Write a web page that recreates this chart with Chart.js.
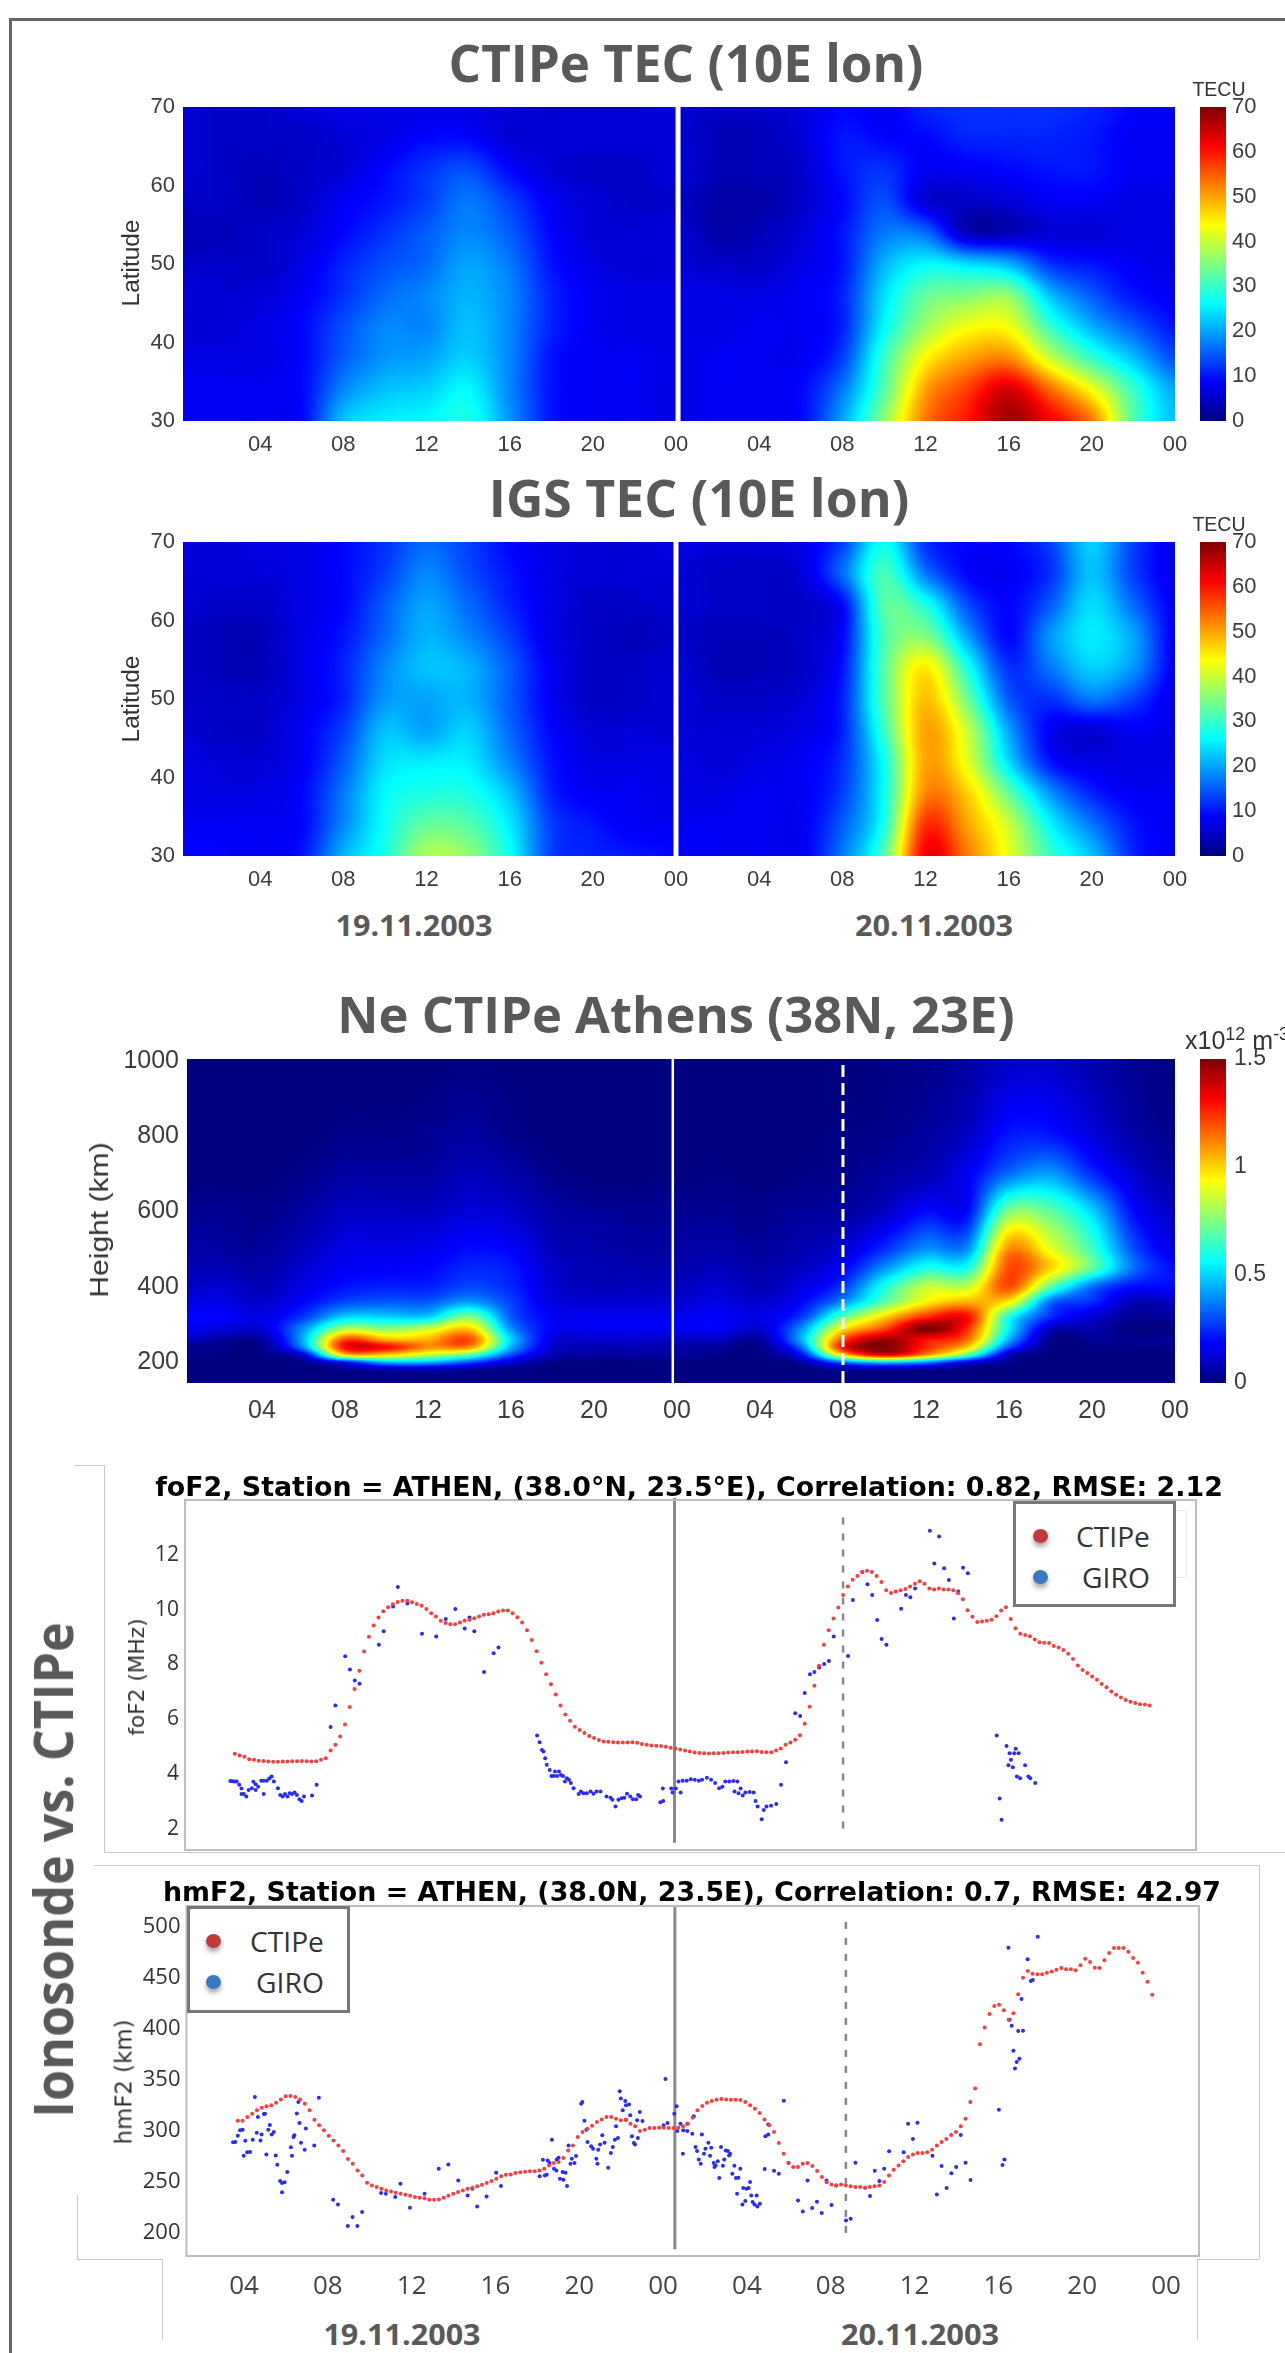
<!DOCTYPE html>
<html>
<head>
<meta charset="utf-8">
<title>CTIPe vs ionosonde</title>
<script src="https://cdn.jsdelivr.net/npm/chart.js@4/dist/chart.umd.min.js"></script>
<style>
html, body { margin: 0; padding: 0; background: #fff; }
#page { position: relative; width: 1285px; height: 2353px; overflow: hidden; background: #fff; filter: blur(0.5px); }
canvas { position: absolute; left: 0; }
.txt { position: absolute; white-space: nowrap; line-height: 1; }
.line { position: absolute; background: #c8c8c8; }
.legend { position: absolute; background: #fff; border: 3px solid #777; box-sizing: border-box; }
.dot { position: absolute; width: 15px; height: 14px; border-radius: 50%; box-shadow: 0 4px 5px #aaa; }
</style>
</head>
<body>
<div id="page"></div>
<script>
// time axis labels
const dayHourTicks = [4, 8, 12, 16, 20, 24, 28, 32, 36, 40, 44, 48];
const lineHourTicks = [0, 24, 48];

// heatmap grids, one row per latitude/height, one column per gridHours entry
const gridHours = [0, 2, 4, 6, 8, 10, 12, 14, 16, 18, 20, 22, 24, 26, 28, 30, 32, 34, 36, 38, 40, 42, 44, 46, 48];
const tecLats = [30, 34, 38, 42, 46, 50, 54, 58, 62, 66, 70];
const latTicks = [30, 40, 50, 60, 70];
const tecBarTicks = [0, 10, 20, 30, 40, 50, 60, 70];

const ctipeTec = [
  [8,8,8,9,22,25,26,28,19,10,8,8,7, 8,8,9,20,36,53,60,68,62,53,32,22],
  [8,8,8,9,18,22,23,26,18,10,8,8,7, 8,8,9,17,32,50,57,64,54,43,30,20],
  [7,7,7,9,15,19,20,23,18,10,8,8,7, 8,8,8,13,30,44,50,52,40,30,22,14],
  [6,6,7,9,14,18,18,22,18,11,8,7,7, 7,8,8,11,26,37,43,43,30,21,15,10],
  [6,6,6,8,12,16,18,21,18,11,8,7,7, 7,7,8,11,24,33,35,36,22,15,10,8],
  [5,5,5,7,11,14,16,20,17,10,7,6,6, 5,5,7,10,21,26,24,21,12,10,8,7],
  [4,4,5,6,9,12,15,18,15,9,6,6,6, 3,4,6,10,17,16,4,4,6,6,7,7],
  [5,5,4,5,8,10,13,17,13,8,6,5,5, 3,3,5,9,14,6,5,6,8,8,7,7],
  [6,5,4,5,6,9,12,14,9,6,5,5,6, 4,4,5,10,12,8,8,9,10,10,8,8],
  [6,5,5,5,6,7,9,9,6,6,6,6,6, 4,4,6,10,9,9,11,11,11,10,8,8],
  [6,5,5,6,7,7,7,7,6,6,6,6,6, 5,5,6,9,8,11,12,12,12,11,9,8]
];

const igsTec = [
  [9,9,8,10,21,28,38,36,27,13,11,10,9, 8,8,8,17,32,62,53,42,30,22,11,8],
  [8,8,8,9,18,27,33,32,25,13,10,8,8, 8,8,8,15,28,58,50,40,26,17,10,8],
  [7,7,7,9,17,26,28,28,22,11,8,8,7, 7,8,8,13,27,52,47,33,19,11,8,8],
  [7,6,6,8,15,24,25,25,18,10,7,7,7, 6,7,8,12,27,50,42,24,10,7,7,7],
  [6,5,5,8,13,22,20,23,16,9,6,6,6, 6,6,7,11,30,50,40,20,8,6,8,7],
  [5,5,5,7,11,19,20,21,15,8,5,5,6, 5,5,6,11,32,48,34,15,12,17,13,7],
  [5,4,4,7,11,18,22,21,15,8,5,5,6, 4,4,5,10,32,45,28,12,17,23,19,8],
  [5,4,4,7,10,16,21,18,13,7,5,4,5, 4,4,5,9,31,35,20,9,19,25,20,8],
  [6,5,5,7,9,15,20,16,11,7,5,5,6, 5,5,5,9,32,28,14,9,15,24,16,8],
  [6,6,6,7,9,13,18,14,10,7,6,6,6, 5,5,6,16,31,17,9,8,12,22,13,7],
  [7,6,7,7,9,12,16,13,9,7,6,6,7, 6,6,7,13,27,12,9,9,13,23,13,7]
];

const neHeights = [145, 180, 200, 220, 240, 260, 290, 320, 360, 400, 450, 500, 600, 700, 800, 900, 1005];
const heightTicks = [200, 400, 600, 800, 1000];
const neBarTicks = [0, 0.5, 1, 1.5];

const neCtipe = [
  [0,0,0,0,0,0,0,0,0,0,0,0,0, 0,0,0,0,0,0,0,0,0,0,0,0],
  [0,0,0,0,.02,.06,.06,.04,.01,0,0,0,0, 0,0,0,.03,.03,.02,0,0,0,0,0,0],
  [0,0,0,.02,.2,.45,.45,.3,.12,.02,0,0,0, 0,0,.05,.35,.5,.4,.15,.03,0,0,0,0],
  [.02,.01,.01,.15,1.0,1.0,.85,.7,.3,.08,.05,.05,.05, .02,.01,.2,1.0,1.35,1.1,.7,.1,0,0,0,0],
  [.02,.02,.02,.4,1.3,1.3,1.1,1.1,.45,.12,.08,.08,.05, .04,.02,.35,1.3,1.5,1.25,1.0,.3,.01,.01,.02,.02],
  [.12,.05,.05,.45,1.2,1.05,1.05,1.2,.5,.14,.12,.12,.1, .1,.05,.45,1.2,1.45,1.3,1.15,.45,.03,.03,.03,.03],
  [.18,.14,.13,.4,.8,.75,.85,1.0,.4,.18,.17,.17,.17, .18,.12,.4,.95,1.2,1.5,1.25,.55,.1,.07,0,0],
  [.19,.19,.15,.27,.5,.5,.5,.75,.32,.18,.17,.17,.17, .18,.15,.27,.7,1.0,1.25,1.3,.6,.25,.12,.03,.05],
  [.14,.15,.11,.19,.29,.32,.32,.42,.28,.14,.12,.12,.12, .15,.11,.19,.4,.7,.95,1.05,.95,.35,.25,.08,.1],
  [.1,.12,.08,.15,.21,.23,.23,.29,.24,.12,.09,.09,.09, .12,.08,.14,.27,.6,.85,.85,1.2,.7,.35,.2,.2],
  [.08,.08,.06,.12,.17,.18,.19,.24,.22,.11,.08,.07,.07, .09,.06,.1,.18,.4,.6,.6,1.2,1.0,.7,.35,.2],
  [.06,.05,.04,.09,.15,.15,.16,.2,.18,.09,.07,.05,.05, .06,.04,.07,.12,.25,.4,.4,1.1,.9,.65,.3,.15],
  [.03,.03,.02,.05,.1,.1,.1,.13,.11,.06,.04,.03,.03, .03,.02,.04,.05,.1,.2,.2,.75,.7,.5,.2,.1],
  [0,0,0,.02,.05,.05,.05,.09,.06,.02,0,0,0, .01,0,.01,.02,.05,.08,.17,.35,.42,.25,.12,.05],
  [0,0,0,0,.02,.02,.03,.05,.02,0,0,0,0, 0,0,0,.01,.02,.05,.1,.22,.22,.14,.06,.02],
  [0,0,0,0,0,0,.01,.03,.01,0,0,0,0, 0,0,0,0,.01,.03,.07,.16,.16,.1,.04,.01],
  [0,0,0,0,0,0,0,0,0,0,0,0,0, 0,0,0,0,.01,.02,.05,.1,.1,.07,.03,.01]
];

// foF2 (MHz), CTIPe every 15 min from 00:15 on 19.11
const fof2Ctipe = [
  4.74,4.68,4.63,4.54,4.52,4.49,4.48,4.46,4.45,4.45,
  4.46,4.46,4.47,4.47,4.48,4.47,4.46,4.47,4.52,4.58,
  4.86,5.07,5.37,5.81,6.45,7.10,7.77,8.47,9.01,9.42,
  9.71,9.94,10.09,10.20,10.28,10.32,10.32,10.27,10.21,10.14,
  10.02,9.87,9.75,9.59,9.51,9.47,9.47,9.53,9.60,9.63,
  9.69,9.75,9.81,9.83,9.87,9.93,9.97,9.97,9.87,9.72,
  9.53,9.25,8.89,8.48,8.06,7.64,7.28,6.90,6.50,6.17,
  5.95,5.73,5.61,5.50,5.39,5.32,5.24,5.19,5.18,5.16,
  5.15,5.15,5.15,5.16,5.14,5.10,5.07,5.04,5.03,5.02,
  5.00,4.96,4.93,4.90,4.86,4.82,4.79,4.77,
  4.76,4.75,4.76,4.76,4.77,4.79,4.80,4.80,4.81,4.82,
  4.82,4.83,4.81,4.80,4.80,4.86,4.93,5.07,5.15,5.25,
  5.42,5.84,6.46,7.22,7.95,8.72,9.25,9.68,10.08,10.53,
  10.84,11.09,11.23,11.37,11.42,11.37,11.23,11.01,10.71,10.61,
  10.66,10.71,10.75,10.84,10.94,11.04,10.94,10.77,10.73,10.77,
  10.73,10.73,10.71,10.60,10.38,9.98,9.74,9.55,9.57,9.59,
  9.63,9.76,9.97,10.09,9.66,9.32,9.12,9.07,9.03,8.91,
  8.81,8.79,8.78,8.67,8.62,8.53,8.39,8.20,7.96,7.80,
  7.69,7.56,7.44,7.29,7.17,7.01,6.89,6.79,6.70,6.64,
  6.59,6.55,6.54,6.50
];

const fof2GiroHours = [
  .02,.12,.23,.35,.48,.60,.60,.72,.85,.97,1.14,1.22,1.34,1.34,1.47,1.63,1.76,1.76,1.92,2.05,
  2.17,2.29,2.50,2.62,2.75,2.87,3.00,3.12,3.24,3.37,3.49,3.62,3.74,3.86,4.28,4.52,5.25,5.50,6.01,6.26,
  6.51,6.76,7.77,8.02,8.51,8.76,9.26,10.02,10.76,11.26,11.76,12.25,12.50,12.75,13.26,13.76,14.01,16.03,16.16,16.28,
  16.36,16.45,16.53,16.69,16.78,16.90,16.96,17.07,17.17,17.27,17.38,17.48,17.58,17.69,17.79,17.93,18.20,18.31,18.45,18.62,
  18.82,18.97,19.13,19.34,19.65,19.86,19.96,20.12,20.27,20.43,20.58,20.72,20.89,21.03,21.20,21.30,21.40,22.46,22.61,22.59,
  23.03,23.27,23.10,23.52,23.41,23.63,23.84,24.05,24.26,24.47,24.64,24.89,25.11,25.32,25.53,25.70,25.85,26.06,26.27,26.48,
  26.33,26.65,26.54,26.76,26.90,27.12,27.33,27.43,27.54,27.75,27.86,28.00,28.24,28.51,28.76,29.02,29.50,29.76,30.00,30.27,
  30.50,30.75,31.01,31.26,31.51,32.26,32.51,33.01,33.27,33.52,33.78,34.01,34.26,35.03,35.28,35.51,35.76,36.53,37.01,36.76,
  37.27,37.52,37.78,38.01,38.26,38.51,40.02,40.17,40.27,40.53,40.63,40.69,40.76,40.86,40.93,41.01,41.07,41.16,41.24,41.50,
  41.67,41.77,42.03
];
const fof2Giro = [
  3.75,3.74,3.73,3.73,3.61,3.47,3.27,3.27,3.18,3.42,3.48,3.72,3.63,3.42,3.54,3.76,3.76,3.27,3.76,3.84,
  3.91,3.73,3.48,3.24,3.18,3.27,3.18,3.30,3.27,3.33,3.24,3.08,3.02,3.18,3.22,3.61,5.72,6.50,8.30,7.82,
  7.41,7.30,8.72,9.21,10.11,10.83,10.22,9.12,9.02,9.66,10.02,9.31,9.71,9.21,7.72,8.41,8.62,5.41,5.16,4.88,
  4.82,4.58,4.34,4.15,3.93,3.93,4.09,3.93,4.09,3.97,3.93,3.73,3.85,3.79,3.67,3.48,3.27,3.36,3.30,3.30,
  3.36,3.28,3.36,3.36,3.18,3.14,3.06,2.82,3.06,3.12,3.14,3.28,3.18,3.08,3.08,3.24,3.18,2.97,3.02,3.47,
  3.47,3.47,3.33,3.33,3.73,3.76,3.76,3.81,3.79,3.76,3.79,3.87,3.79,3.67,3.48,3.54,3.73,3.73,3.75,3.73,
  3.36,3.47,3.30,3.22,3.33,3.35,3.33,3.02,2.82,2.35,2.69,2.82,2.84,2.91,3.61,4.43,6.22,6.12,6.96,7.64,
  7.72,7.89,8.02,8.13,9.02,8.31,10.35,11.37,10.93,10.53,9.62,8.93,8.72,10.03,10.53,10.45,10.77,12.88,12.67,11.68,
  11.51,11.08,9.68,10.66,11.53,11.33,5.41,3.11,2.33,5.02,4.32,4.76,4.52,4.25,4.76,4.92,3.91,4.76,3.85,4.32,
  3.91,3.85,3.67
];

// hmF2 (km)
const hmf2Ctipe = [
  310.1,310.1,313.7,317.0,320.3,322.9,324.2,325.2,327.8,331.0,
  334.0,334.3,333.3,331.0,326.8,320.3,311.1,305.6,300.7,295.4,
  290.8,285.9,280.4,272.5,268.0,261.4,256.5,249.3,246.7,245.1,
  243.5,241.8,240.8,239.5,238.6,237.6,236.6,235.3,234.6,234.0,
  232.7,232.7,233.0,234.6,236.6,238.6,240.2,241.8,243.5,244.4,
  245.8,247.4,249.0,251.0,253.3,255.6,257.2,257.5,258.8,259.5,
  260.1,260.5,260.5,261.4,263.1,266.3,268.6,269.6,273.5,
  281.0,285.9,294.1,299.0,302.3,305.2,308.8,311.4,313.7,313.7,
  312.1,310.5,311.1,307.2,304.6,300.0,301.3,302.9,302.9,303.3,
  303.3,302.9,302.9,303.3,
  304.6,307.2,313.1,320.3,324.5,327.8,329.4,330.7,331.4,331.0,
  330.7,330.7,330.4,328.4,325.2,321.9,317.6,311.4,305.6,299.0,
  288.2,277.8,269.0,264.7,264.7,268.0,268.6,265.7,260.8,254.9,
  249.7,247.7,246.7,247.7,246.7,245.8,245.1,245.1,244.4,245.1,
  245.8,246.7,250.0,256.5,262.1,266.3,270.3,274.5,277.1,278.4,
  278.4,279.1,281.7,285.9,289.2,292.2,296.1,299.0,304.6,312.1,
  328.4,341.8,385.0,401.6,414.7,422.5,423.9,418.3,409.2,415.4,
  434.0,450.3,456.9,454.2,453.6,453.6,455.2,456.5,458.2,459.8,
  458.5,458.5,457.5,462.4,468.9,465.7,460.1,459.8,467.3,474.5,
  479.4,479.4,479.4,475.8,469.6,465.0,455.2,446.4,433.7
];

const hmf2GiroPairs = [
  [.00,288.9],[.12,289.2],[.25,295.4],[.37,300.7],[.50,301.3],[.64,290.5],[.56,275.8],[.74,279.1],[.89,279.4],[1.03,291.5],
  [1.14,333.3],[1.30,313.7],[1.24,298.4],[1.43,290.8],[1.49,296.7],[1.61,316.7],[1.67,317.0],[1.74,277.1],[1.84,301.3],[1.92,305.9],
  [2.02,296.7],[2.13,299.0],[2.23,276.1],[2.31,267.0],[2.46,251.0],[2.56,249.0],[2.69,249.7],[2.56,239.9],[2.83,259.8],[3.02,284.0],
  [3.08,275.8],[3.20,295.8],[3.16,294.1],[3.33,317.3],[3.41,328.4],[3.47,307.8],[3.55,288.6],[3.74,281.7],[3.80,302.6],[4.24,285.9],
  [4.48,332.7],[5.23,232.7],[5.48,228.1],[5.99,206.9],[6.24,215.7],[6.49,206.9],[6.74,220.6],[7.73,239.2],[7.98,238.6],[8.47,235.3],
  [8.74,248.4],[9.24,224.8],[10.00,238.6],[10.74,263.1],[11.24,267.3],[11.76,251.6],[12.25,236.9],[12.50,243.5],[12.75,226.1],[13.24,235.9],
  [13.74,259.2],[13.99,246.1],[16.01,255.6],[16.18,271.9],[16.28,256.5],[16.38,257.2],[16.43,271.2],[16.53,268.6],[16.65,291.5],[16.76,263.1],
  [16.90,272.2],[16.88,261.4],[17.00,273.9],[17.07,253.3],[17.21,259.8],[17.25,252.3],[17.36,259.2],[17.44,246.1],[17.52,285.9],[17.62,268.0],
  [17.69,272.9],[17.83,268.6],[17.91,275.5],[18.18,326.8],[18.24,328.4],[18.35,310.1],[18.45,301.3],[18.51,289.2],[18.70,285.0],[18.80,282.7],
  [18.97,272.9],[19.03,268.0],[19.07,281.7],[19.17,286.9],[19.28,295.8],[19.40,288.6],[19.59,264.1],[19.73,278.4],[19.83,284.3],[19.94,291.5],
  [20.00,304.6],[20.10,293.1],[20.19,338.9],[20.25,332.0],[20.35,320.3],[20.48,329.4],[20.52,325.2],[20.68,326.1],[20.52,311.1],[20.74,315.4],
  [20.83,294.8],[20.93,288.2],[20.99,286.9],[21.14,293.1],[21.10,310.5],[21.24,318.6],[21.38,309.8],[22.48,305.6],[22.58,351.0],[22.69,307.8],
  [23.04,317.0],[23.16,324.2],[23.20,300.0],[23.36,307.2],[23.49,277.8],[23.51,300.7],[23.72,307.2],[23.72,300.0],[23.98,297.4],[24.06,314.4],
  [24.15,284.3],[24.23,280.4],[24.32,272.2],[24.42,268.0],[24.48,296.7],[24.59,277.8],[24.67,282.7],[24.82,288.6],[24.91,275.8],[24.97,283.7],
  [25.10,268.6],[25.14,264.7],[25.20,266.3],[25.31,270.3],[25.39,253.9],[25.48,284.3],[25.58,266.0],[25.65,272.2],[25.73,281.0],[25.84,280.4],
  [25.96,277.8],[25.90,276.1],[26.07,258.2],[26.18,266.0],[26.26,253.9],[26.39,254.2],[26.49,263.1],[26.32,238.6],[26.60,228.1],[26.75,231.4],
  [26.64,244.1],[26.81,243.5],[26.92,244.1],[27.00,250.0],[27.06,236.9],[27.13,230.4],[27.23,228.1],[27.34,236.9],[27.38,226.1],[27.51,228.8],
  [27.76,262.7],[27.80,294.8],[27.95,296.7],[27.95,306.5],[28.25,261.1],[28.50,258.2],[28.76,329.7],[29.01,268.6],[29.50,232.0],[29.75,221.2],
  [30.00,251.6],[30.24,224.5],[30.49,230.7],[30.74,219.6],[30.99,251.6],[31.25,227.5],[31.50,246.7],[32.01,212.4],[32.25,214.1],[32.50,269.0],
  [33.01,244.4],[33.26,236.3],[33.51,261.1],[33.75,251.0],[34.00,263.1],[34.26,280.1],[35.02,279.1],[35.25,307.2],[35.50,292.2],[35.74,308.2],
  [36.52,275.8],[36.75,237.9],[37.00,265.7],[37.26,244.1],[37.51,258.5],[37.76,264.7],[38.00,296.1],[38.25,269.0],[38.51,252.0],[39.99,320.9],
  [40.18,266.7],[40.28,272.2],[40.49,479.7],[40.55,409.2],[40.66,403.3],[40.75,378.8],[40.83,361.4],[40.92,367.6],[41.06,370.9],[41.00,398.0],
  [41.17,429.4],[41.25,398.4],[41.49,468.3],[41.66,447.1],[41.76,448.0],[42.02,490.5]
];
const fof2Ticks = [2, 4, 6, 8, 10, 12];
const hmf2Ticks = [200, 250, 300, 350, 400, 450, 500];

const page = document.getElementById('page');

function jet(t) {
  const f = v => Math.round(255 * Math.max(0, Math.min(1, v)));
  return [f(1.5 - Math.abs(4 * t - 3)), f(1.5 - Math.abs(4 * t - 2)), f(1.5 - Math.abs(4 * t - 1))];
}

function hourLabel(v) {
  return String(v % 24).padStart(2, '0');
}

// fractional index of v in a sorted list
function fracIndex(list, v) {
  let i = 0;
  while (i < list.length - 2 && v > list[i + 1]) i++;
  return i + (v - list[i]) / (list[i + 1] - list[i]);
}

function catmull(a, b, c, d, t) {
  return b + 0.5 * t * (c - a + t * (2 * a - 5 * b + 4 * c - d + t * (3 * (b - c) + d - a)));
}

// fixed box for an axis, and no extra inset from its label overhang or tick padding
function fixBox(s, side, size) {
  s[side] = size;
  s.paddingTop = 0; s.paddingBottom = 0; s.paddingLeft = 0; s.paddingRight = 0;
}

const heatPlugin = {
  id: 'heat',
  beforeDatasetsDraw(chart, args, o) {
    const area = chart.chartArea, sx = chart.scales.x, sy = chart.scales.y;
    const w = Math.round(area.right - area.left), h = Math.round(area.bottom - area.top);
    const off = document.createElement('canvas');
    off.width = w; off.height = h;
    const octx = off.getContext('2d');
    const img = octx.createImageData(w, h);
    const nr = o.rows.length, nc = gridHours.length;
    const at = (r, c) => o.grid[Math.max(0, Math.min(nr - 1, r))][Math.max(0, Math.min(nc - 1, c))];
    const cols = [];
    for (let px = 0; px < w; px++) cols.push(fracIndex(gridHours, sx.getValueForPixel(area.left + px + 0.5)));
    for (let py = 0; py < h; py++) {
      const fr = fracIndex(o.rows, sy.getValueForPixel(area.top + py + 0.5));
      const r = Math.floor(fr), tr = fr - r;
      for (let px = 0; px < w; px++) {
        const c = Math.floor(cols[px]), tc = cols[px] - c;
        const rowVal = k => catmull(at(r + k, c - 1), at(r + k, c), at(r + k, c + 1), at(r + k, c + 2), tc);
        const v = catmull(rowVal(-1), rowVal(0), rowVal(1), rowVal(2), tr);
        const rgb = jet(Math.max(0, Math.min(1, v / o.max)));
        const p = (py * w + px) * 4;
        img.data[p] = rgb[0]; img.data[p + 1] = rgb[1]; img.data[p + 2] = rgb[2]; img.data[p + 3] = 255;
      }
    }
    octx.putImageData(img, 0, 0);
    chart.ctx.drawImage(off, area.left, area.top);
    // colour bar, same colormap on its own axis
    const sc = chart.scales.c;
    for (let y = Math.round(sc.top); y < sc.bottom; y++) {
      const rgb = jet(Math.max(0, Math.min(1, sc.getValueForPixel(y + 0.5) / o.max)));
      chart.ctx.fillStyle = 'rgb(' + rgb.join(',') + ')';
      chart.ctx.fillRect(o.barLeft, y, o.barWidth, 1);
    }
  }
};

const framePlugin = {
  id: 'frame',
  afterDraw(chart) {
    const a = chart.chartArea, ctx = chart.ctx;
    ctx.save();
    ctx.strokeStyle = '#bdbdbd';
    ctx.lineWidth = 2;
    ctx.strokeRect(a.left, a.top, a.right - a.left, a.bottom - a.top);
    ctx.restore();
  }
};

function addCanvas(top, height) {
  const c = document.createElement('canvas');
  c.width = 1285; c.height = height;
  c.style.top = top + 'px';
  page.appendChild(c);
  return c.getContext('2d');
}

function vline(x, y0, y1, color, width, dash) {
  return {
    type: 'scatter', showLine: true, pointRadius: 0, clip: false,
    borderColor: color, borderWidth: width, borderDash: dash || [],
    data: [{ x: x, y: y0 }, { x: x, y: y1 }]
  };
}

function heatChart(c) {
  const ctx = addCanvas(c.top, c.height);
  const cells = [];
  c.rows.forEach((r, i) => gridHours.forEach((h, j) => cells.push({ x: h, y: r, v: c.grid[i][j] })));
  new Chart(ctx, {
    type: 'scatter',
    data: { datasets: [{ label: c.name, data: cells, pointRadius: 0 }].concat(c.lines) },
    options: {
      responsive: false, animation: false, devicePixelRatio: 1,
      layout: { padding: { top: c.plotTop - c.top } },
      plugins: {
        legend: { display: false }, tooltip: { enabled: false },
        heat: { rows: c.rows, grid: c.grid, max: c.barMax, barLeft: 1200, barWidth: 26 }
      },
      scales: {
        x: {
          type: 'linear', min: c.xMin, max: 48,
          afterFit: s => fixBox(s, 'height', c.top + c.height - c.plotBottom),
          afterBuildTicks: s => { s.ticks = dayHourTicks.map(v => ({ value: v })); },
          grid: { display: false, drawTicks: false },
          border: { display: false },
          ticks: { callback: hourLabel, autoSkip: false, maxRotation: 0, padding: c.xPad, color: '#3c3c3c', font: { family: 'Liberation Sans', size: c.tickSize } }
        },
        y: {
          type: 'linear', min: c.yMin, max: c.yMax,
          afterFit: s => fixBox(s, 'width', c.plotLeft),
          afterBuildTicks: s => { s.ticks = c.yTicks.map(v => ({ value: v })); },
          grid: { display: false, drawTicks: false },
          border: { display: false },
          ticks: { callback: v => String(v), autoSkip: false, padding: 8, color: '#3c3c3c', font: { family: 'Liberation Sans', size: c.tickSize } }
        },
        c: {
          type: 'linear', position: 'right', min: 0, max: c.barMax,
          afterFit: s => fixBox(s, 'width', 1285 - c.plotRight),
          afterBuildTicks: s => { s.ticks = c.barTicks.map(v => ({ value: v })); },
          grid: { display: false, drawTicks: false },
          border: { display: false },
          ticks: { callback: v => String(v), autoSkip: false, padding: c.barPad, color: '#3c3c3c', font: { family: 'Liberation Sans', size: c.barSize } }
        }
      }
    },
    plugins: [heatPlugin]
  });
}

function dotChart(c) {
  const ctx = addCanvas(c.top, c.height);
  const scales = {
    x: {
      type: 'linear', min: c.xMin, max: c.xMax, weight: 0,
      afterFit: s => fixBox(s, 'height', c.labelAxis ? 6 : c.top + c.height - c.plotBottom),
      afterBuildTicks: s => { s.ticks = lineHourTicks.map(v => ({ value: v })); },
      grid: { display: false, drawTicks: true, tickLength: 4, tickColor: '#999' },
      border: { display: false },
      ticks: { display: false }
    },
    y: {
      type: 'linear', min: c.yMin, max: c.yMax,
      afterFit: s => fixBox(s, 'width', c.plotLeft),
      afterBuildTicks: s => { s.ticks = c.yTicks.map(v => ({ value: v })); },
      grid: { display: false, drawTicks: true, tickLength: 3, tickColor: '#999' },
      border: { display: false },
      ticks: { autoSkip: false, padding: 3, color: '#333', font: { family: 'Open Sans', size: c.tickSize } }
    }
  };
  if (c.labelAxis) {
    // date axis printed under the panel, offset from the data axis as in the figure
    scales.xLab = {
      type: 'linear', position: 'bottom', axis: 'x', min: c.labelAxis[0], max: c.labelAxis[1], weight: 1,
      afterFit: s => fixBox(s, 'height', c.top + c.height - c.plotBottom - 6),
      afterBuildTicks: s => { s.ticks = dayHourTicks.map(v => ({ value: v })); },
      grid: { display: false, drawTicks: false },
      border: { display: false },
      ticks: { callback: hourLabel, autoSkip: false, maxRotation: 0, padding: 9, color: '#444', font: { family: 'Open Sans', size: 26 } }
    };
  }
  new Chart(ctx, {
    type: 'scatter',
    data: {
      datasets: [
        { label: 'CTIPe', data: c.ctipe, pointRadius: 2, borderWidth: 0, backgroundColor: '#ff3a3a' },
        { label: 'GIRO', data: c.giro, pointRadius: 2, borderWidth: 0, backgroundColor: '#2a2aff' }
      ].concat(c.lines)
    },
    options: {
      responsive: false, animation: false, devicePixelRatio: 1,
      layout: { padding: { top: c.plotTop - c.top, right: 1285 - c.plotRight } },
      plugins: { legend: { display: false }, tooltip: { enabled: false } },
      scales: scales
    },
    plugins: [framePlugin]
  });
}

// text placed by centre and stretched to the wanted length
function label(text, cx, cy, len, font, color, rot) {
  const el = document.createElement('div');
  el.className = 'txt';
  el.innerHTML = text;
  el.style.font = font;
  el.style.lineHeight = '1';
  el.style.color = color;
  el.style.left = cx + 'px';
  el.style.top = cy + 'px';
  page.appendChild(el);
  const k = len ? len / el.offsetWidth : 1;
  el.style.transform = 'translate(-50%,-50%) rotate(' + (rot || 0) + 'deg) scaleX(' + k + ')';
}

function rule(x, y, w, h, color) {
  const el = document.createElement('div');
  el.className = 'line';
  el.style.cssText = 'left:' + x + 'px;top:' + y + 'px;width:' + w + 'px;height:' + h + 'px;' + (color ? 'background:' + color : '');
  page.appendChild(el);
}

function legendBox(x, y, w, h, dotX, dotY, textCx) {
  const box = document.createElement('div');
  box.className = 'legend';
  box.style.cssText = 'left:' + x + 'px;top:' + y + 'px;width:' + w + 'px;height:' + h + 'px';
  page.appendChild(box);
  [['#c23b38', 0], ['#3a78c2', 1]].forEach(d => {
    const dot = document.createElement('div');
    dot.className = 'dot';
    dot.style.cssText = 'left:' + (dotX - 7) + 'px;top:' + (dotY[d[1]] - 7) + 'px;background:' + d[0];
    page.appendChild(dot);
  });
  label('CTIPe', textCx[0], dotY[0], 74, '27px "Open Sans"', '#333');
  label('GIRO', textCx[1], dotY[1], 68, '27px "Open Sans"', '#333');
}

// outer frame and the cropped panel outlines
rule(10, 18, 1275, 3, '#666');
rule(9, 18, 3, 2335, '#666');
rule(75, 1465, 29, 1);
rule(104, 1465, 1, 387);
rule(104, 1852, 1181, 1);
rule(94, 1865, 1165, 1);
rule(1259, 1865, 1, 394);
rule(77, 2195, 1, 65);
rule(77, 2259, 86, 1);
rule(162, 2259, 1, 81);
rule(1197, 2259, 62, 1);
rule(1197, 2259, 1, 81);
// faint box of the old legend, behind the new one
rule(1176, 1510, 10, 1, '#ececec');
rule(1176, 1577, 10, 1, '#ececec');
rule(1186, 1510, 1, 68, '#ececec');

heatChart({
  name: 'CTIPe TEC', top: 90, height: 370, plotTop: 107, plotBottom: 421, plotLeft: 183, plotRight: 1175,
  xMin: 0.29, yMin: 30, yMax: 70, yTicks: latTicks, rows: tecLats, grid: ctipeTec, barMax: 70, barTicks: tecBarTicks,
  tickSize: 22, barSize: 22, xPad: 11, barPad: 57,
  lines: [vline(24.1, 30, 70, '#fff', 5)]
});
heatChart({
  name: 'IGS TEC', top: 525, height: 370, plotTop: 542, plotBottom: 856, plotLeft: 183, plotRight: 1175,
  xMin: 0.29, yMin: 30, yMax: 70, yTicks: latTicks, rows: tecLats, grid: igsTec, barMax: 70, barTicks: tecBarTicks,
  tickSize: 22, barSize: 22, xPad: 11, barPad: 57,
  lines: [vline(24, 30, 70, '#fff', 5)]
});
heatChart({
  name: 'Ne CTIPe', top: 1040, height: 390, plotTop: 1059, plotBottom: 1383, plotLeft: 187, plotRight: 1175,
  xMin: 0.39, yMin: 145, yMax: 1005, yTicks: heightTicks, rows: neHeights, grid: neCtipe, barMax: 1.5, barTicks: neBarTicks,
  tickSize: 25, barSize: 23, xPad: 13, barPad: 59,
  lines: [vline(23.8, 145, 1005, '#fff', 2.5), vline(32, 145, 1005, '#fff', 3, [12, 6])]
});

dotChart({
  top: 1470, height: 395, plotTop: 1500, plotBottom: 1850, plotLeft: 185, plotRight: 1196,
  xMin: -2.35, xMax: 50.42, yMin: 1.23, yMax: 14, yTicks: fof2Ticks, tickSize: 21,
  ctipe: fof2Ctipe.map((v, i) => ({ x: (i + 1) * 0.25, y: v })),
  giro: fof2Giro.map((v, i) => ({ x: fof2GiroHours[i], y: v })),
  lines: [vline(23.2, 14.07, 1.49, '#8a8a8a', 3), vline(32, 13.36, 1.85, '#8a8a8a', 2.5, [7, 9])]
});
dotChart({
  top: 1872, height: 440, plotTop: 1906, plotBottom: 2256, plotLeft: 186.5, plotRight: 1199,
  xMin: -2.43, xMax: 50.44, yMin: 177.5, yMax: 520.6, yTicks: hmf2Ticks, tickSize: 22,
  labelAxis: [1.255, 49.575],
  ctipe: hmf2Ctipe.map((v, i) => ({ x: (i + 1) * 0.25, y: v })),
  giro: hmf2GiroPairs.map(p => ({ x: p[0], y: p[1] })),
  lines: [vline(23.07, 520.6, 184, '#8a8a8a', 3), vline(32, 505, 193, '#8a8a8a', 2.5, [7, 9])]
});

// titles and axis names
const bold = size => '700 ' + size + 'px "Open Sans"';
const grey = '#595959';
label('CTIPe TEC (10E lon)', 686, 62, 475, bold(52), grey);
label('IGS TEC (10E lon)', 699, 497, 420, bold(52), grey);
label('Ne CTIPe Athens (38N, 23E)', 676, 1013, 677, bold(51), grey);
label('19.11.2003', 414, 925, 157, bold(28), grey);
label('20.11.2003', 934, 925, 158, bold(28), grey);
label('19.11.2003', 402, 2333, 157, bold(29), grey);
label('20.11.2003', 920, 2333, 158, bold(29), grey);
label('Ionosonde vs. CTIPe', 52, 1870, 495, bold(54), grey, -90);

label('Latitude', 131, 263, 87, '23px "Liberation Sans"', '#333', -90);
label('Latitude', 131, 699, 87, '23px "Liberation Sans"', '#333', -90);
label('Height (km)', 99, 1220, 155, '26px "Liberation Sans"', '#333', -90);
label('foF2 (MHz)', 137, 1677, 117, '22px "DejaVu Sans"', '#333', -90);
label('hmF2 (km)', 124, 2082, 125, '23px "DejaVu Sans"', '#333', -90);

label('TECU', 1219, 88, 53, '21px "Liberation Sans"', '#333');
label('TECU', 1219, 523, 53, '21px "Liberation Sans"', '#333');
const unit = document.createElement('div');
unit.className = 'txt';
unit.innerHTML = 'x10<sup style="font-size:18px">12</sup> m<sup style="font-size:18px">-3</sup>';
unit.style.cssText = 'left:1185px;top:1024px;font:25px "Liberation Sans";color:#333';
page.appendChild(unit);

label('foF2, Station = ATHEN, (38.0°N, 23.5°E), Correlation: 0.82, RMSE: 2.12', 689, 1487, 1068, '700 26px "DejaVu Sans"', '#000');
label('hmF2, Station = ATHEN, (38.0N, 23.5E), Correlation: 0.7, RMSE: 42.97', 692, 1892, 1058, '700 26px "DejaVu Sans"', '#000');

legendBox(1013, 1501, 163, 106, 1040, [1536, 1577], [1113, 1116]);
legendBox(187, 1906, 163, 107, 213, [1941, 1982], [287, 290]);
</script>
</body>
</html>
